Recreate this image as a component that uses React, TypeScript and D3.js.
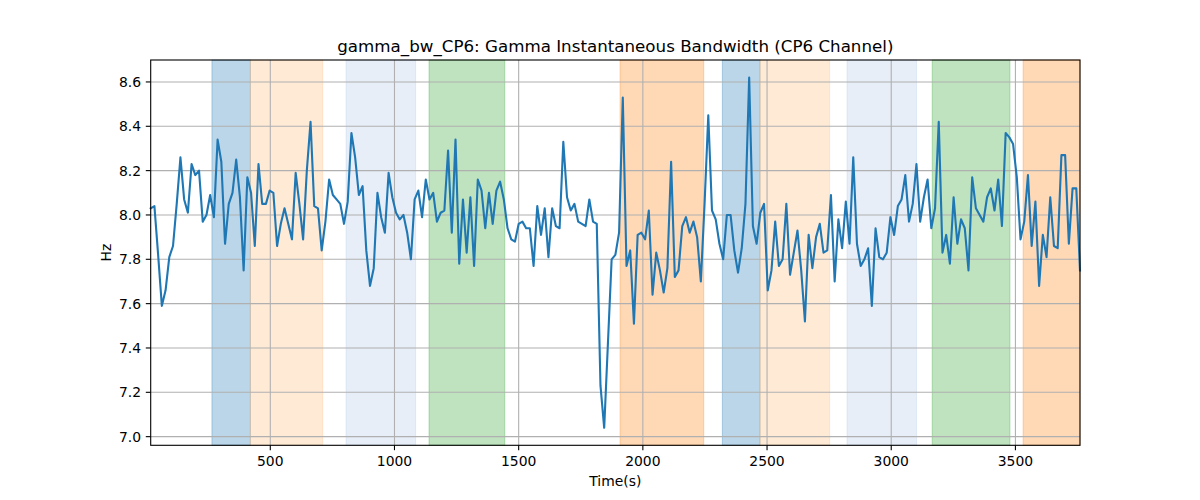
import React, { useEffect, useRef } from 'react';
import * as d3 from 'd3';

// time axis: samples are evenly spaced
const timeStart = 18.5;
const timeStep = 14.966;

// gamma instantaneous bandwidth (Hz), CP6 channel
const bandwidthHz = [
  8.03, 8.04, 7.82, 7.59, 7.66, 7.81, 7.86, 8.05, 8.26, 8.07,
  8.01, 8.23, 8.18, 8.20, 7.97, 8.00, 8.09, 7.99, 8.34, 8.24,
  7.87, 8.05, 8.10, 8.25, 8.08, 7.75, 8.17, 8.10, 7.86, 8.23,
  8.05, 8.05, 8.11, 8.10, 7.86, 7.96, 8.03, 7.96, 7.89, 8.19,
  8.05, 7.89, 8.20, 8.42, 8.04, 8.03, 7.84, 7.97, 8.16, 8.09,
  8.07, 8.05, 7.96, 8.06, 8.37, 8.26, 8.09, 8.13, 7.84, 7.68,
  7.76, 8.10, 7.99, 7.92, 8.19, 8.08, 8.01, 7.98, 8.00, 7.92,
  7.80, 8.07, 8.11, 7.99, 8.16, 8.07, 8.10, 7.97, 8.01, 8.02,
  8.29, 7.92, 8.34, 7.78, 8.07, 7.83, 8.08, 7.77, 8.16, 8.11,
  7.94, 8.10, 7.96, 8.11, 8.15, 8.07, 7.94, 7.89, 7.88, 7.96,
  7.97, 7.94, 7.94, 7.77, 8.04, 7.91, 8.03, 7.81, 8.03, 7.95,
  7.94, 8.33, 8.08, 8.02, 8.05, 7.97, 7.96, 7.95, 8.07, 7.97,
  7.96, 7.23, 7.04, 7.42, 7.80, 7.82, 7.92, 8.53, 7.77, 7.84,
  7.51, 7.91, 7.92, 7.89, 8.02, 7.64, 7.83, 7.75, 7.65, 7.76,
  8.24, 7.72, 7.75, 7.95, 7.99, 7.92, 7.97, 7.90, 7.70, 8.05,
  8.45, 8.02, 7.98, 7.87, 7.80, 8.00, 8.00, 7.84, 7.74, 7.85,
  8.05, 8.62, 7.95, 7.87, 8.01, 8.05, 7.66, 7.75, 7.97, 7.77,
  7.80, 8.05, 7.73, 7.83, 7.93, 7.75, 7.52, 7.91, 7.76, 7.90,
  7.96, 7.83, 7.84, 8.09, 7.70, 7.98, 7.85, 8.06, 7.87, 8.26,
  7.87, 7.77, 7.80, 7.85, 7.59, 7.94, 7.81, 7.80, 7.83, 7.99,
  7.91, 8.04, 8.07, 8.18, 7.97, 8.05, 8.23, 7.97, 8.08, 8.16,
  7.94, 8.03, 8.42, 7.83, 7.91, 7.78, 8.08, 7.87, 7.98, 7.94,
  7.75, 8.17, 8.03, 8.00, 7.97, 8.08, 8.12, 8.02, 8.16, 7.95,
  8.37, 8.35, 8.32, 8.17, 7.89, 7.97, 8.18, 7.86, 8.06, 7.68,
  7.91, 7.81, 8.08, 7.86, 7.85, 8.27, 8.27, 7.87, 8.12, 8.12,
  7.75
];

// shaded segments (seconds) and which class each belongs to
const spanStart = [265, 420, 805, 1139, 1908, 2320, 2472, 2822, 3165, 3531];
const spanEnd = [420, 711, 1085, 1444, 2245, 2472, 2752, 3102, 3478, 3760];
const spanClass = [0, 1, 2, 3, 4, 0, 1, 2, 3, 4];

const xTicks = [500, 1000, 1500, 2000, 2500, 3000, 3500];
const yTicks = [7.0, 7.2, 7.4, 7.6, 7.8, 8.0, 8.2, 8.4, 8.6];

const spanColors = ['#1f77b4', '#ffbb78', '#aec7e8', '#2ca02c', '#ff7f0e'];

const W = 1200;
const H = 500;
const margin = { top: 60, right: 120, bottom: 54.7, left: 150.7 };
const font = '"DejaVu Sans", sans-serif';

const App = () => {
  const svgRef = useRef(null);

  useEffect(() => {
    document.body.style.margin = '0';
    const svg = d3.select(svgRef.current);
    svg.selectAll('*').remove();

    const width = W - margin.left - margin.right;
    const height = H - margin.top - margin.bottom;

    const points = bandwidthHz.map((v, i) => ({ t: timeStart + i * timeStep, v }));
    const tEnd = points[points.length - 1].t;

    const x = d3.scaleLinear().domain([timeStart, tEnd]).range([0, width]);
    const [lo, hi] = d3.extent(bandwidthHz);
    const pad = (hi - lo) * 0.05;
    const y = d3.scaleLinear().domain([lo - pad, hi + pad]).range([height, 0]);

    svg.append('rect').attr('width', W).attr('height', H).attr('fill', '#fff');

    const g = svg.append('g').attr('transform', `translate(${margin.left},${margin.top})`);

    // spans
    g.selectAll('.span')
      .data(spanStart.map((s, i) => ({ s, e: Math.min(spanEnd[i], tEnd), c: spanColors[spanClass[i]] })))
      .enter()
      .append('rect')
      .attr('x', d => x(d.s))
      .attr('y', 0)
      .attr('width', d => x(d.e) - x(d.s))
      .attr('height', height)
      .attr('fill', d => d.c)
      .attr('fill-opacity', 0.3)
      .attr('stroke', d => d.c)
      .attr('stroke-opacity', 0.3)
      .attr('stroke-width', 1);

    // grid
    g.selectAll('.gx')
      .data(xTicks)
      .enter()
      .append('line')
      .attr('x1', d => x(d)).attr('x2', d => x(d))
      .attr('y1', 0).attr('y2', height)
      .attr('stroke', '#b0b0b0').attr('stroke-width', 1.1);

    g.selectAll('.gy')
      .data(yTicks)
      .enter()
      .append('line')
      .attr('x1', 0).attr('x2', width)
      .attr('y1', d => y(d)).attr('y2', d => y(d))
      .attr('stroke', '#b0b0b0').attr('stroke-width', 1.1);

    // line
    const line = d3.line().x(d => x(d.t)).y(d => y(d.v));
    g.append('path')
      .datum(points)
      .attr('d', line)
      .attr('fill', 'none')
      .attr('stroke', '#1f77b4')
      .attr('stroke-width', 2.1)
      .attr('stroke-linejoin', 'round')
      .attr('stroke-linecap', 'square');

    // frame
    g.append('rect')
      .attr('width', width).attr('height', height)
      .attr('fill', 'none').attr('stroke', '#000').attr('stroke-width', 1.1);

    // x axis
    const xAxis = g.append('g').attr('transform', `translate(0,${height})`);
    xAxis.selectAll('line')
      .data(xTicks).enter().append('line')
      .attr('x1', d => x(d)).attr('x2', d => x(d))
      .attr('y1', 0).attr('y2', 4.9)
      .attr('stroke', '#000').attr('stroke-width', 1.1);
    xAxis.selectAll('text')
      .data(xTicks).enter().append('text')
      .attr('x', d => x(d)).attr('y', 20.3)
      .attr('text-anchor', 'middle')
      .attr('font-family', font).attr('font-size', 13.9)
      .attr('fill', '#000')
      .text(d => d);

    // y axis
    const yAxis = g.append('g');
    yAxis.selectAll('line')
      .data(yTicks).enter().append('line')
      .attr('x1', -4.9).attr('x2', 0)
      .attr('y1', d => y(d)).attr('y2', d => y(d))
      .attr('stroke', '#000').attr('stroke-width', 1.1);
    yAxis.selectAll('text')
      .data(yTicks).enter().append('text')
      .attr('x', -9.7).attr('y', d => y(d) + 5)
      .attr('text-anchor', 'end')
      .attr('font-family', font).attr('font-size', 13.9)
      .attr('fill', '#000')
      .text(d => d.toFixed(1));

    // labels
    svg.append('text')
      .attr('x', margin.left + width / 2).attr('y', 486)
      .attr('text-anchor', 'middle')
      .attr('font-family', font).attr('font-size', 13.9)
      .text('Time(s)');

    svg.append('text')
      .attr('transform', `translate(111,${margin.top + height / 2}) rotate(-90)`)
      .attr('text-anchor', 'middle')
      .attr('font-family', font).attr('font-size', 13.9)
      .text('Hz');

    svg.append('text')
      .attr('x', margin.left + width / 2).attr('y', 51.7)
      .attr('text-anchor', 'middle')
      .attr('font-family', font).attr('font-size', 16.7)
      .text('gamma_bw_CP6: Gamma Instantaneous Bandwidth (CP6 Channel)');
  }, []);

  return (
    <div style={{ position: 'absolute', left: 0, top: 0 }}>
      <svg ref={svgRef} width={W} height={H} style={{ display: 'block' }}></svg>
    </div>
  );
};

export default App;
